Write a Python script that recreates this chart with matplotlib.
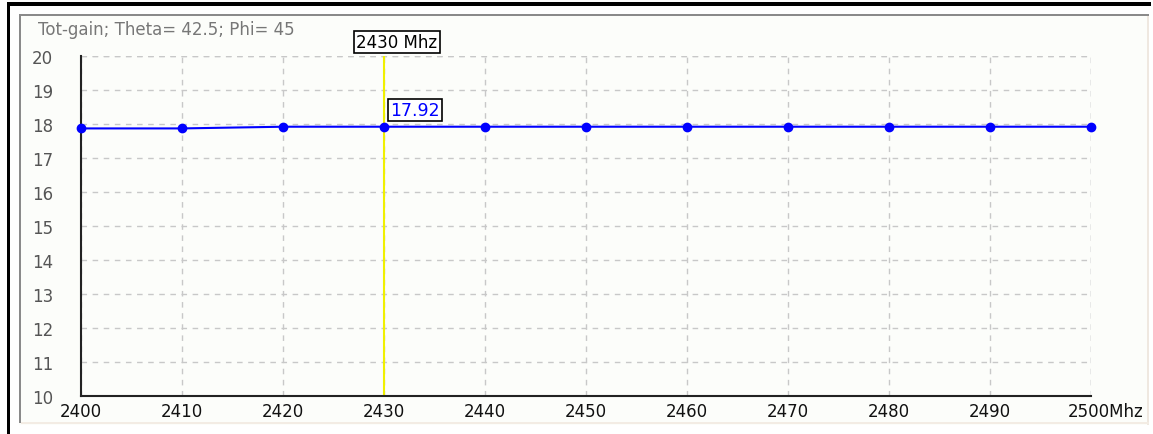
import matplotlib
matplotlib.use("Agg")
import matplotlib.pyplot as plt
from matplotlib.patches import Rectangle
from matplotlib.transforms import ScaledTranslation

# data
freqs = [2400, 2410, 2420, 2430, 2440, 2450, 2460, 2470, 2480, 2490, 2500]
gain = [17.87, 17.87, 17.92, 17.92, 17.92, 17.92, 17.92, 17.92, 17.92, 17.92, 17.92]
x_ticks = [2400, 2410, 2420, 2430, 2440, 2450, 2460, 2470, 2480, 2490, 2500]
x_labels = ["2400", "2410", "2420", "2430", "2440", "2450", "2460", "2470", "2480", "2490", "2500Mhz"]
y_ticks = [10, 11, 12, 13, 14, 15, 16, 17, 18, 19, 20]
title = "Tot-gain; Theta= 42.5; Phi= 45"
cursor_freq = 2430
cursor_label = "2430 Mhz"
cursor_value = "17.92"

W, H = 1153, 435
plt.rcParams['font.family'] = ['DejaVu Sans']

fig = plt.figure(figsize=(W / 100, H / 100), dpi=100)
fig.patch.set_facecolor("white")


def px_rect(x0, y0, x1, y1, **kw):
    # rectangle given in pixel coords (top-left origin)
    fig.patches.append(Rectangle((x0 / W, 1 - y1 / H), (x1 - x0) / W, (y1 - y0) / H,
                                 transform=fig.transFigure, zorder=-5, **kw))


# outer frame
px_rect(19, 16, 1149, 426, facecolor="#fcfdfa", edgecolor="none")
px_rect(7, 3, 1151, 7, facecolor="black", edgecolor="none")
px_rect(7, 3, 10, 435, facecolor="black", edgecolor="none")
px_rect(19, 15, 1149, 17, facecolor="#8a8a8a", edgecolor="none")
px_rect(19, 15, 21, 424, facecolor="#8a8a8a", edgecolor="none")
px_rect(1147, 17, 1149, 426, facecolor="#efe8e0", edgecolor="none")
px_rect(21, 423, 1149, 425, facecolor="#f3ece4", edgecolor="none")

ax = fig.add_axes([81 / W, 1 - 397 / H, (1091 - 81) / W, (397 - 57) / H])
ax.set_facecolor("none")
ax.set_xlim(2400, 2500)
ax.set_ylim(10, 20)
ax.set_xticks(x_ticks)
ax.set_xticklabels(x_labels)
ax.set_yticks(y_ticks)
ax.tick_params(axis="both", length=0, labelsize=12)
ax.tick_params(axis="x", pad=4, colors="#111111")
ax.tick_params(axis="y", colors="#555555")
for lab in ax.get_yticklabels():
    lab.set_horizontalalignment("left")
    lab.set_x(-0.044)
# last x label: keep "2500" centred on its tick, unit hangs to the right
last = ax.get_xticklabels()[-1]
last.set_horizontalalignment("left")
last.set_transform(last.get_transform() + ScaledTranslation(-0.23, 0, fig.dpi_scale_trans))

ax.grid(True, color="#c8c8c8", linestyle=(0, (4, 4)), linewidth=1)
ax.set_axisbelow(True)
for s in ["top", "right"]:
    ax.spines[s].set_visible(False)
for s in ["left", "bottom"]:
    ax.spines[s].set_color("#222222")
    ax.spines[s].set_linewidth(1.5)

# dashed frame edges at top and right
ax.axhline(20, color="#c8c8c8", linestyle=(0, (4, 4)), linewidth=1, zorder=0)
ax.axvline(2500, color="#c8c8c8", linestyle=(0, (4, 4)), linewidth=1, zorder=0)

# cursor line
ax.axvline(cursor_freq, color="#f0f000", linewidth=1.5, zorder=2)
ax.plot(freqs, gain, color="#0000ff", linewidth=1.5, marker="o", markersize=6,
        zorder=3, clip_on=False)

fig.text(38 / W, 1 - 30 / H, title, fontsize=12, color="#777777", va="center", ha="left")
fig.text(397 / W, 1 - 43 / H, cursor_label, fontsize=12, color="black", va="center", ha="center",
         bbox=dict(boxstyle="square,pad=0.12", facecolor="white", edgecolor="black", linewidth=1.2))
fig.text(390 / W, 1 - 111 / H, cursor_value, fontsize=12.5, color="#0000ff", va="center", ha="left",
         bbox=dict(boxstyle="square,pad=0.12", facecolor="white", edgecolor="black", linewidth=1.2))

fig.savefig("out.png", dpi=100)
